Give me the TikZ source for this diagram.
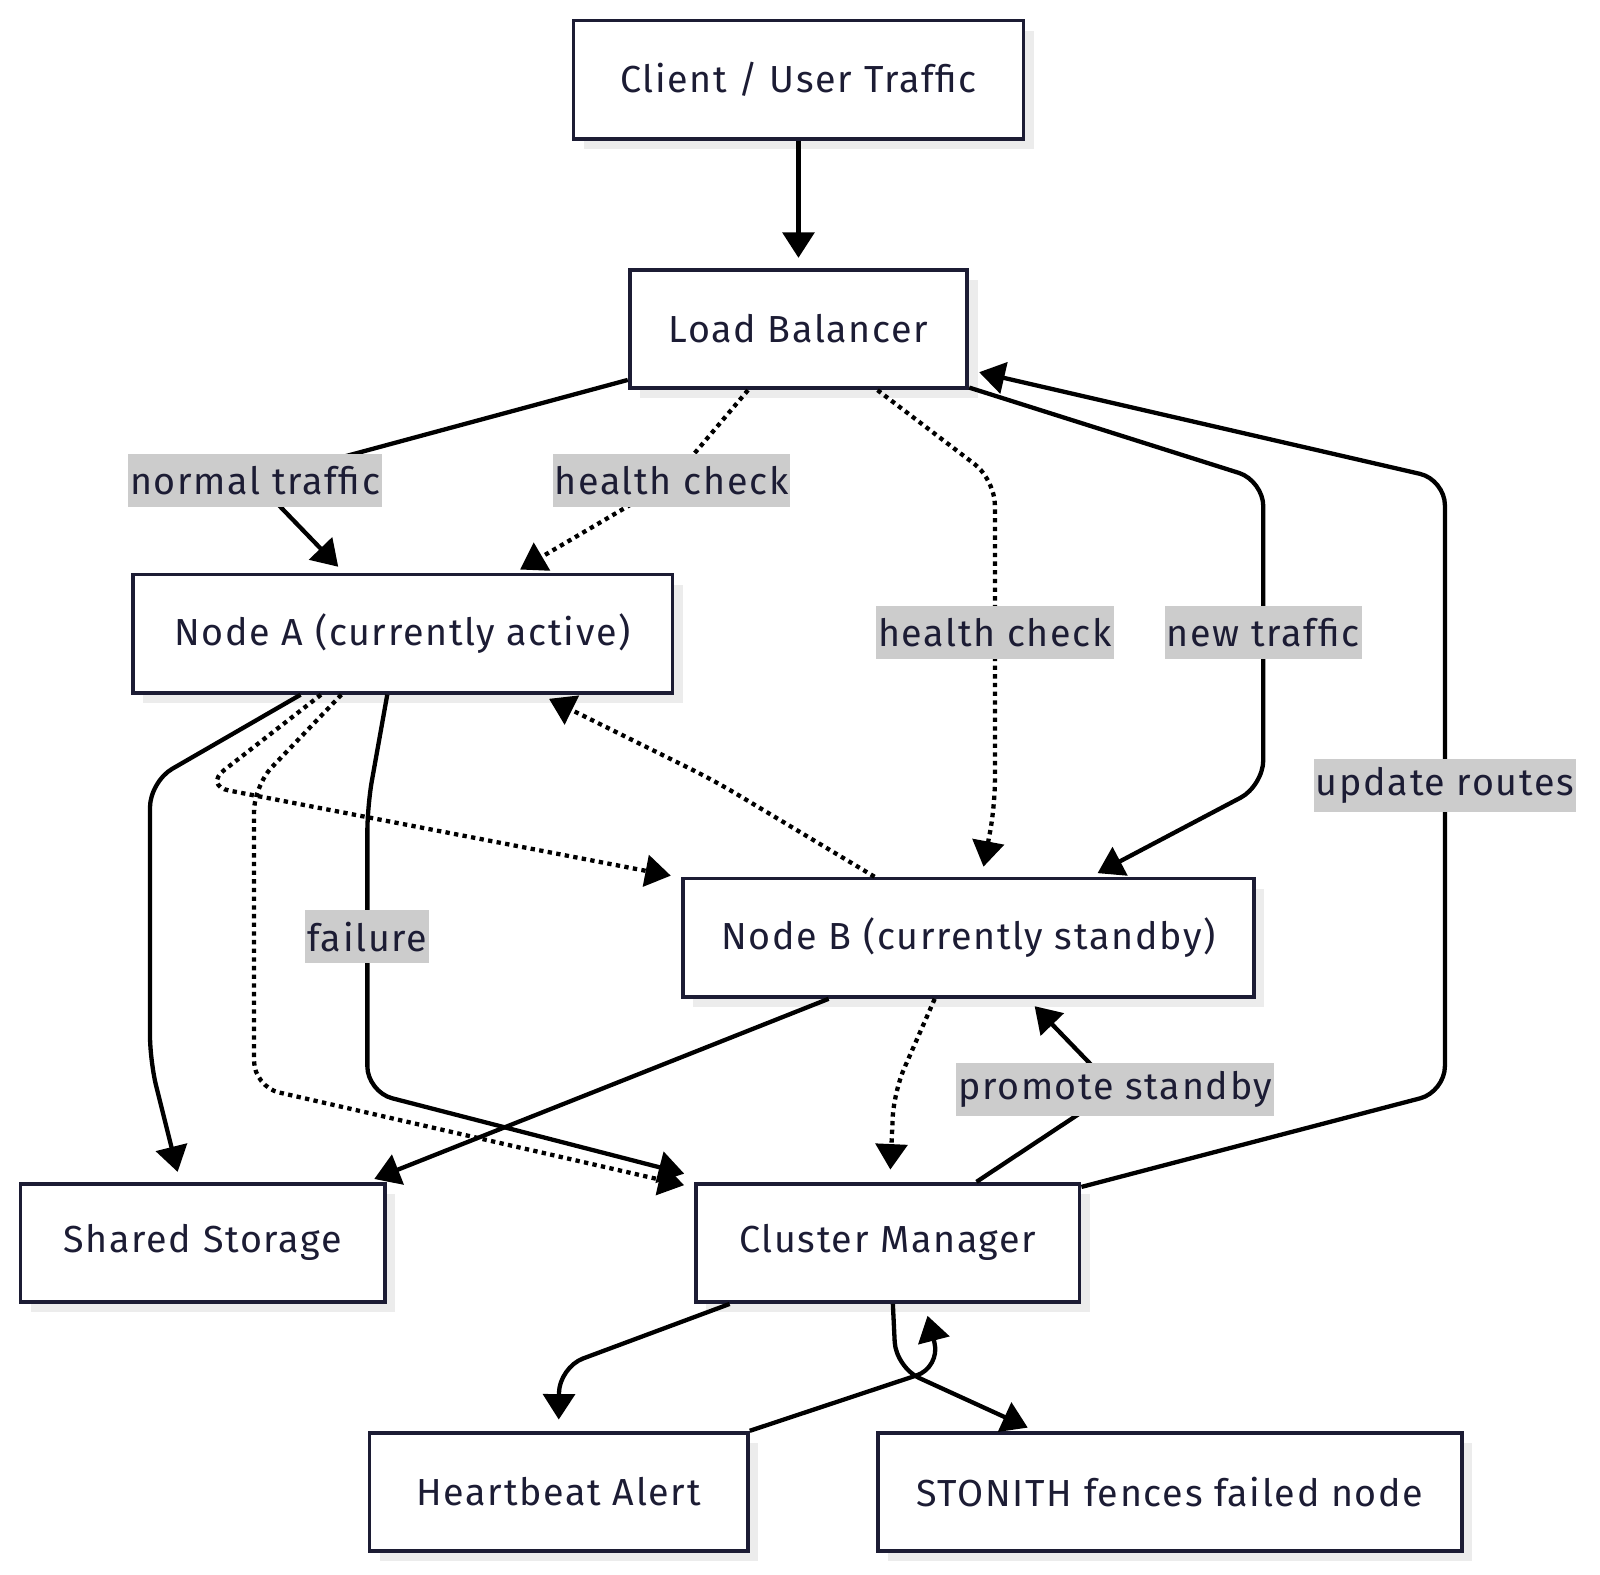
\documentclass[tikz,border=0pt]{standalone}
\usepackage{fontspec}
\setmainfont[LetterSpace=4.5]{Fira Sans}
\usetikzlibrary{arrows.meta, shadows}
\definecolor{inkcolor}{RGB}{28, 28, 52}
\definecolor{shadowcolor}{RGB}{236, 236, 236}
\definecolor{labelcolor}{RGB}{204, 204, 204}

\begin{document}
\begin{tikzpicture}[x=0.02cm, y=-0.02cm,
    font=\fontsize{21}{25}\selectfont,
    box/.style={draw=inkcolor, line width=2.1pt, fill=white, text=inkcolor, minimum height=2.32cm,
        general shadow={fill=shadowcolor, shadow xshift=0.2cm, shadow yshift=-0.2cm}},
    lbl/.style={fill=labelcolor, text=inkcolor, sharp corners, inner xsep=0.04cm, inner ysep=0pt, minimum height=1.04cm},
    flow/.style={line width=2.4pt, -{Triangle[length=0.5cm, width=0.62cm]}, rounded corners=0.5cm, shorten >=0.2cm},
    probe/.style={flow, dash pattern=on 0.085cm off 0.085cm}]
    \useasboundingbox (0,0) rectangle (1568,1543);

    % boxes
    \node[box, minimum width=8.82cm] (client) at (782.5,78) {Client / User Traffic};
    \node[box, minimum width=6.62cm] (lb) at (782.5,322.5) {Load Balancer};
    \node[box, minimum width=10.58cm] (nodea) at (394.5,621) {Node A (currently active)};
    \node[box, minimum width=11.2cm] (nodeb) at (949,919) {Node B (currently standby)};
    \node[box, minimum width=7.14cm] (storage) at (198.5,1218) {Shared Storage};
    \node[box, minimum width=7.52cm] (cm) at (870,1218) {Cluster Manager};
    \node[box, minimum width=7.42cm] (alert) at (547.5,1462) {Heartbeat Alert};
    \node[box, minimum width=11.46cm] (stonith) at (1146.5,1462) {STONITH fences failed node};

    % traffic and health checks
    \draw[flow] (client.south) -- (lb.north);
    \draw[flow, shorten >=0.16cm] ([yshift=0.2cm]lb.south west) -- (250,471) node[lbl] {normal traffic} -- ([xshift=-1.15cm]nodea.north);
    \draw[probe, shorten >=0.12cm] ([xshift=-0.99cm]lb.south) -- (658,471) node[lbl] {health check} -- ([xshift=2.2cm]nodea.north);
    \draw[probe] ([xshift=1.55cm]lb.south) -- (975,470) -- (975,620) node[lbl] {health check} -- (975,790) -- ([xshift=0.26cm]nodeb.north);
    \draw[flow, shorten >=0.15cm] ([yshift=0.05cm]lb.south east) -- (1238,471) -- (1238,620) node[lbl] {new traffic} -- (1238,770) -- ([xshift=2.4cm]nodeb.north);
    \draw[flow] ([yshift=-0.1cm]cm.north east) -- (1416,1070) -- (1416,770) node[lbl] {update routes} -- (1416,470) -- ([yshift=-0.8cm]lb.east);

    % node A
    \draw[flow] ([xshift=-2cm]nodea.south) -- (147,766) -- (147,1040) -- ([xshift=-0.44cm]storage.north);
    \draw[probe] ([xshift=-1.6cm]nodea.south) -- (200,770) -- ([yshift=1.18cm]nodeb.west);
    \draw[probe] ([xshift=-1.2cm]nodea.south) -- (249,770) -- (249,1065) -- ([yshift=-0.11cm]cm.north west);
    \draw[flow] ([xshift=-0.3cm]nodea.south) -- (360,790) -- (360,918) node[lbl] {failure} -- (360,1070) -- ([yshift=0.11cm]cm.north west);

    % node B
    \draw[probe, shorten >=0.18cm] ([xshift=-1.84cm]nodeb.north) -- (700,765) -- ([xshift=2.71cm]nodea.south);
    \draw[flow, shorten >=0.15cm] ([xshift=-2.74cm]nodeb.south) -- ([xshift=-0.38cm]storage.north east);
    \draw[probe, shorten >=0.24cm] ([xshift=-0.66cm]nodeb.south) -- (876,1070) -- ([xshift=0.04cm]cm.north);

    % cluster manager
    \draw[flow] ([xshift=1.74cm]cm.north) -- (1093,1068) node[lbl] {promote standby} -- ([xshift=1.16cm]nodeb.south);
    \draw[flow, shorten >=0.22cm] ([xshift=-3.1cm]cm.south) -- (548,1340) -- (alert.north);
    \draw[flow, shorten >=0.15cm] ([xshift=0.1cm]cm.south) -- (878,1340) -- ([xshift=-2.65cm]stonith.north);
    \draw[flow, shorten >=0.24cm] (alert.north east) -- (922,1340) -- ([xshift=0.72cm]cm.south);
\end{tikzpicture}
\end{document}
